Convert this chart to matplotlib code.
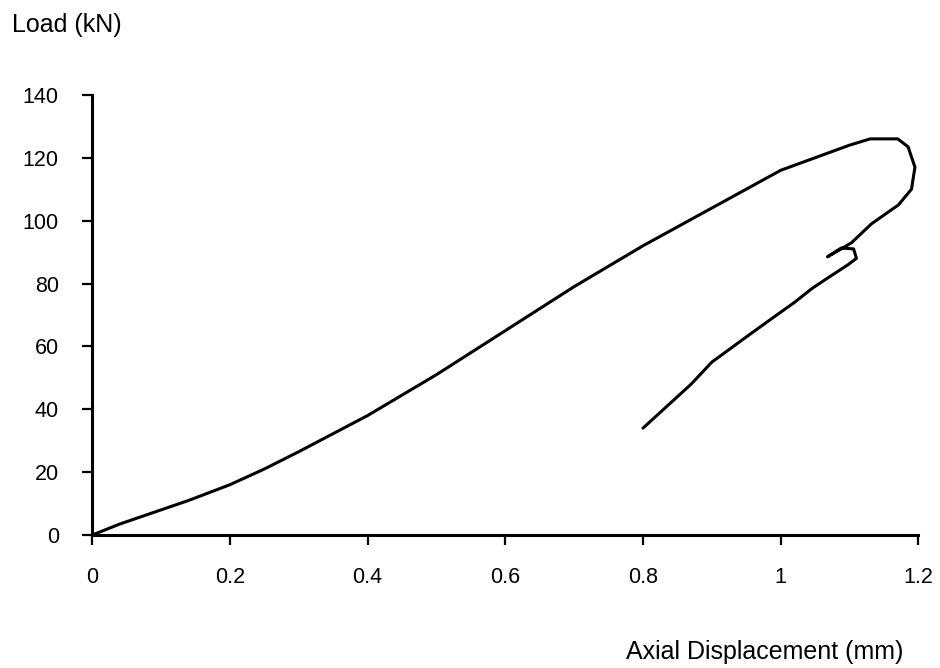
import matplotlib
matplotlib.use("Agg")
import matplotlib.pyplot as plt

plt.rcParams['font.family'] = ['Liberation Sans', 'DejaVu Sans']

# load path
disp = [0, 0.04, 0.08, 0.14, 0.2, 0.25, 0.3, 0.4, 0.5, 0.6, 0.7, 0.8, 0.9,
        0.95, 1.0, 1.05, 1.1, 1.13, 1.17, 1.185, 1.195, 1.19, 1.171,
        1.132, 1.103, 1.088, 1.068, 1.088, 1.106, 1.11, 1.098, 1.07,
        1.046, 1.02, 0.988, 0.95, 0.9, 0.87, 0.83, 0.8]
load = [0, 3.5, 6.5, 11, 16, 21, 26.5, 38, 51, 65, 79, 92, 104,
        110, 116, 120, 124, 126, 126, 123.5, 117, 110, 105,
        99, 93, 91, 88.5, 91.3, 91, 88, 86, 82,
        78.5, 74, 69, 63, 55, 48, 40, 34]

x_ticks = [0, 0.2, 0.4, 0.6, 0.8, 1, 1.2]
x_tick_labels = ['0', '0.2', '0.4', '0.6', '0.8', '1', '1.2']
y_ticks = [0, 20, 40, 60, 80, 100, 120, 140]

fig = plt.figure(figsize=(9.4, 6.68), dpi=100)
ax = fig.add_axes([0.098, 0.199, 0.879, 0.659])
ax.plot(disp, load, color='black', linewidth=2.2, solid_joinstyle='round',
        solid_capstyle='round')

ax.set_xlim(0, 1.2)
ax.set_ylim(0, 140)
ax.set_xticks(x_ticks)
ax.set_xticklabels(x_tick_labels)
ax.set_yticks(y_ticks)
for side in ['top', 'right']:
    ax.spines[side].set_visible(False)
for side in ['left', 'bottom']:
    ax.spines[side].set_linewidth(2.2)
ax.tick_params(direction='out', length=7, width=1.6, labelsize=15.5)
ax.tick_params(axis='x', pad=16)
ax.tick_params(axis='y', pad=17)

fig.text(0.013, 0.962, 'Load (kN)', fontsize=18, ha='left', va='center')
fig.text(0.961, 0.024, 'Axial Displacement (mm)', fontsize=18, ha='right', va='center')

fig.savefig('out.png', dpi=100)
